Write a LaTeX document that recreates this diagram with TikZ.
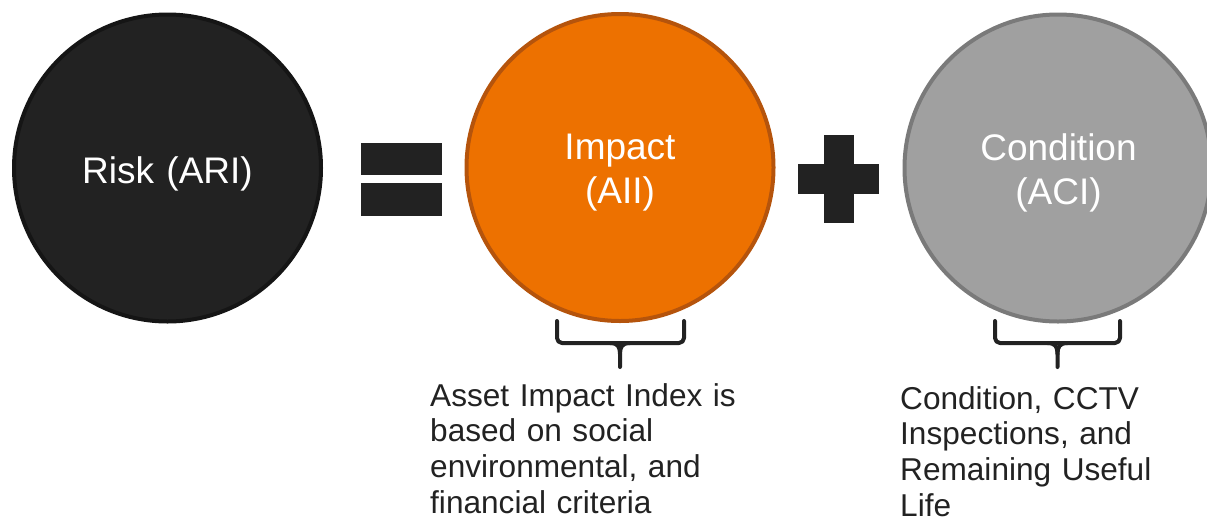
\documentclass[tikz,border=0pt]{standalone}
\usepackage{fontspec}
\setmainfont{Liberation Sans}
\definecolor{ink}{HTML}{222222}
\definecolor{riskfill}{HTML}{222222}
\definecolor{riskedge}{HTML}{151515}
\definecolor{impfill}{HTML}{ED7100}
\definecolor{impedge}{HTML}{B5540C}
\definecolor{condfill}{HTML}{A0A0A0}
\definecolor{condedge}{HTML}{7A7A7A}
\begin{document}
\begin{tikzpicture}[x=1pt,y=-1pt,
  bigcircle/.style={circle, draw, line width=4pt, minimum size=307pt, inner sep=0pt},
  circtext/.style={text=white, font=\fontsize{37}{44}\selectfont, inner sep=0pt,
    text width=300pt, align=center, anchor=base},
  notetext/.style={text=ink, font=\fontsize{31.6}{35.7}\selectfont, inner sep=0pt,
    text width=320pt, align=left, anchor=base west},
  brace/.style={draw=ink, line width=4pt, line cap=round, line join=round, rounded corners=5pt},
  spike/.style={draw=ink, line width=4pt, line cap=round, line join=round}]
  \useasboundingbox (0,0) rectangle (1207,520);
  \clip (0,0) rectangle (1207,520);

  % three index circles
  \node[bigcircle, draw=riskedge, fill=riskfill] (risk) at (167.5,168) {};
  \node[bigcircle, draw=impedge, fill=impfill] (impact) at (620,167.5) {};
  \node[bigcircle, draw=condedge, fill=condfill] (cond) at (1058,168) {};

  \node[circtext] (risklbl) at (167.5,183) {Risk (ARI)};
  \node[circtext] (implbl) at (620,159) {Impact\\(AII)};
  \node[circtext] (condlbl) at (1058.5,160) {Condition\\(ACI)};

  % equals sign
  \fill[ink] (361,143) rectangle (442,175);
  \fill[ink] (361,183) rectangle (442,216);

  % plus sign
  \fill[ink] (824,135) rectangle (854,223);
  \fill[ink] (798,164) rectangle (879,194);

  % braces under the circles, with a flared middle tip
  \coordinate (ibtip) at (620,367);
  \draw[brace] (557,321) -- (557,343) -- (684,343) -- (684,321);
  \draw[spike] (610,343) .. controls (618,343) and (620,347) .. (620,354) -- (ibtip);
  \draw[spike] (630,343) .. controls (622,343) and (620,347) .. (620,354);
  \coordinate (cbtip) at (1057.5,367);
  \draw[brace] (995,321) -- (995,343) -- (1120,343) -- (1120,321);
  \draw[spike] (1047.5,343) .. controls (1055.5,343) and (1057.5,347) .. (1057.5,354) -- (cbtip);
  \draw[spike] (1067.5,343) .. controls (1059.5,343) and (1057.5,347) .. (1057.5,354);

  % descriptions
  \node[notetext] (impnote) at (430,406) {Asset Impact Index is\\based on social\\environmental, and\\financial criteria};
  \node[notetext] (condnote) at (900,409) {Condition, CCTV\\Inspections, and\\Remaining Useful\\Life};
\end{tikzpicture}
\end{document}
